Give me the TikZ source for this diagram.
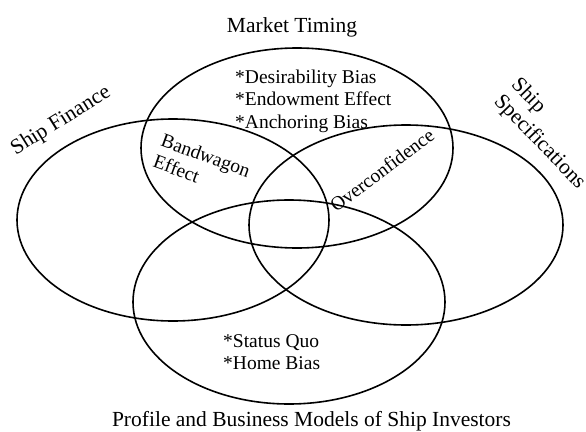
\documentclass[tikz,border=0pt]{standalone}
\usepackage{fontspec}
\setmainfont{Liberation Serif}

\tikzset{
  set/.style={line width=1.6pt},
  title/.style={inner sep=0pt, font=\fontsize{21.5}{24}\selectfont},
  bias/.style={inner sep=0pt, align=left, font=\fontsize{19.5}{22.5}\selectfont}
}

\begin{document}
\begin{tikzpicture}[x=1pt, y=-1pt]
  \useasboundingbox (0,0) rectangle (586,431);

  % Centres of the four sets
  \coordinate (timing)    at (297,148);
  \coordinate (finance)   at (173,220);
  \coordinate (specs)     at (406,225);
  \coordinate (investors) at (289,302);

  % The sets
  \draw[set] (timing)    ellipse [x radius=156pt, y radius=100pt];
  \draw[set] (finance)   ellipse [x radius=156pt, y radius=101pt];
  \draw[set] (specs)     ellipse [x radius=157pt, y radius=100pt];
  \draw[set] (investors) ellipse [x radius=156pt, y radius=102pt];

  % Set titles
  \node[title, anchor=base] (timingtitle) at (292,32) {Market Timing};
  \node[title, rotate=32] (financetitle) at (61,121) {Ship Finance};
  \node[title, rotate=-46, align=left] (specstitle) at (548,134) {Ship\\Specifications};
  \node[title, anchor=base] (investorstitle) at (311.5,426) {Profile and Business Models of Ship Investors};

  % Biases
  \node[bias, anchor=west] (timingbias) at (235,101) {*Desirability Bias\\*Endowment Effect\\*Anchoring Bias};
  \node[bias, rotate=-20] (bandwagon) at (202,166) {Bandwagon\\Effect};
  \node[bias, rotate=37] (overconf) at (382,170) {Overconfidence};
  \node[bias, anchor=west] (investorsbias) at (223,352) {*Status Quo\\*Home Bias};
\end{tikzpicture}
\end{document}
